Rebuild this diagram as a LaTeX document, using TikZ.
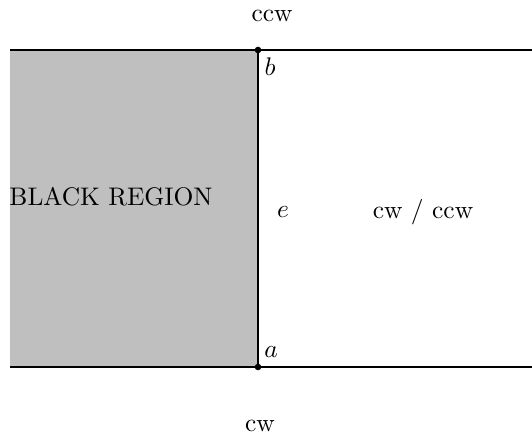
\documentclass[tikz,border=0pt]{standalone}
\begin{document}
\begin{tikzpicture}[x=0.393pt,y=-0.393pt,
  edgeline/.style={line width=0.4pt,black},
  lbl/.style={inner sep=0pt,font=\normalsize},
  vdot/.style={circle,fill=black,inner sep=0pt,minimum size=2.6pt}]
\useasboundingbox (0,0) rectangle (532,438);
\fill[gray!50] (10,50) rectangle (258,367);
\node[vdot] (b) at (258,50) {};
\node[vdot] (a) at (258,367) {};
\coordinate (tl) at (10,50);
\coordinate (tr) at (532,50);
\coordinate (bl) at (10,367);
\coordinate (br) at (532,367);
\draw[edgeline] (tl) -- (tr);
\draw[edgeline] (bl) -- (br);
\draw[edgeline] (b.center) -- (a.center);
\node[lbl] (ccw) at (272,16) {ccw};
\node[lbl] (cw) at (260,426) {cw};
\node[lbl] (lb) at (270,67) {$b$};
\node[lbl] (le) at (283,212) {$e$};
\node[lbl] (la) at (271,352) {$a$};
\node[lbl] (both) at (423,212) {cw / ccw};
\node[lbl] (black) at (111,197) {BLACK REGION};
\end{tikzpicture}
\end{document}
